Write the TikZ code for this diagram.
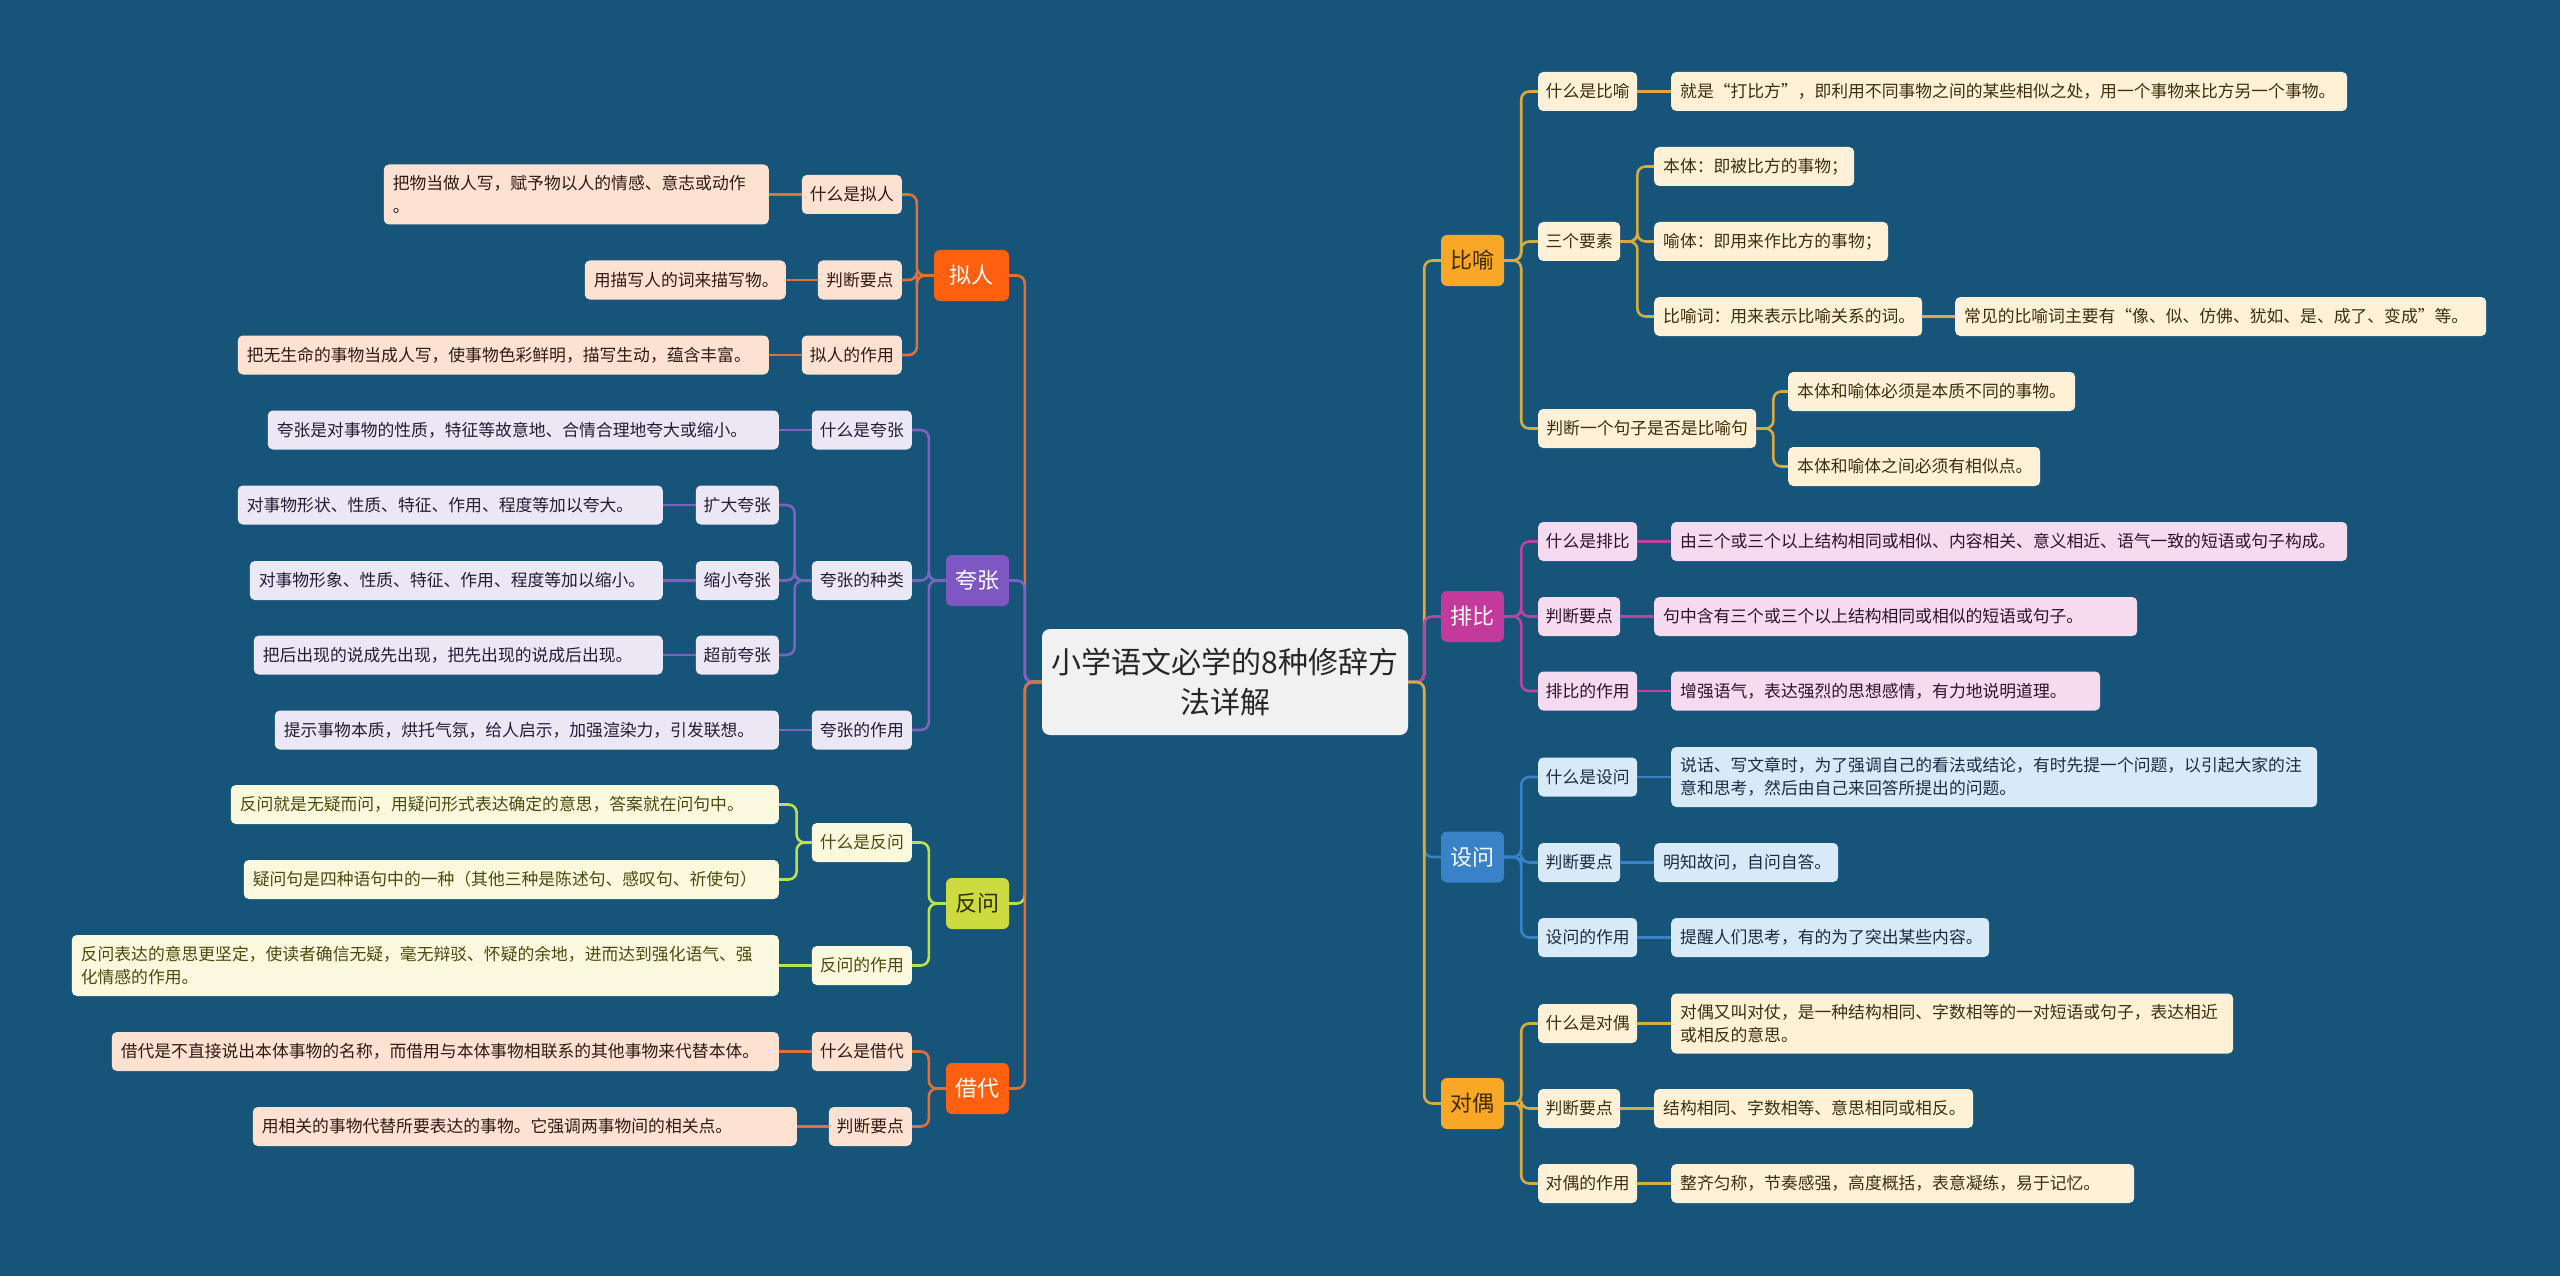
\documentclass[tikz,border=0pt]{standalone}
\usepackage{fontspec}
\setmainfont{Noto Sans CJK SC}
\definecolor{bg}{HTML}{17547A}
\definecolor{rootF}{HTML}{F1F1F1}
\definecolor{nrF}{HTML}{FF6010}
\definecolor{nrL}{HTML}{E0703A}
\definecolor{nrC}{HTML}{FDE2D2}
\definecolor{nrT}{HTML}{2E1A12}
\definecolor{kzF}{HTML}{7E57C2}
\definecolor{kzL}{HTML}{7E62C0}
\definecolor{kzC}{HTML}{ECE7F5}
\definecolor{kzT}{HTML}{221C36}
\definecolor{fwF}{HTML}{CDDB40}
\definecolor{fwT}{HTML}{2E2E10}
\definecolor{fwL}{HTML}{B9E150}
\definecolor{fwC}{HTML}{FAF9DD}
\definecolor{fwTT}{HTML}{4A4A10}
\definecolor{byF}{HTML}{F8A826}
\definecolor{byT}{HTML}{3E2A05}
\definecolor{byL}{HTML}{D9AA40}
\definecolor{byC}{HTML}{FEF1D8}
\definecolor{byTT}{HTML}{3E2E0C}
\definecolor{pbF}{HTML}{C43A9C}
\definecolor{pbL}{HTML}{B8459E}
\definecolor{pbC}{HTML}{F6DAEF}
\definecolor{pbT}{HTML}{30112C}
\definecolor{swF}{HTML}{3A82C8}
\definecolor{swL}{HTML}{3A82C8}
\definecolor{swC}{HTML}{D8E9F7}
\definecolor{swT}{HTML}{182C44}
\tikzset{
  rootbox/.style={fill=rootF, rounded corners=8pt, minimum width=366pt, minimum height=106pt,
    inner sep=0pt, align=center, text=black!85, font=\fontsize{30}{40}\selectfont},
  lone/.style={rounded corners=6pt, minimum height=51pt, inner sep=0pt, font=\fontsize{22}{26}\selectfont},
  ltwo/.style={rounded corners=5pt, minimum height=39pt, inner sep=0pt, font=\fontsize{16.8}{23}\selectfont},
  desc/.style={rounded corners=5pt, minimum height=39pt, inner xsep=9pt, inner ysep=0pt, align=left,
    font=\fontsize{16.8}{23}\selectfont},
  conn/.style={line width=2.6pt, rounded corners=8pt},
  cNR/.style={conn, draw=nrL},
  cKZ/.style={conn, draw=kzL},
  cFW/.style={conn, draw=fwL},
  cBY/.style={conn, draw=byL},
  cPB/.style={conn, draw=pbL},
  cSW/.style={conn, draw=swL},
  nrc/.style={fill=nrC, text=nrT},
  kzc/.style={fill=kzC, text=kzT},
  fwc/.style={fill=fwC, text=fwTT},
  byc/.style={fill=byC, text=byTT},
  pbc/.style={fill=pbC, text=pbT},
  swc/.style={fill=swC, text=swT},
}
\begin{document}
\begin{tikzpicture}[x=1pt,y=-1pt]
\fill[bg] (0,0) rectangle (2560,1276);
\useasboundingbox (0,0) rectangle (2560,1276);

% root
\node[rootbox] (R) at (1225,682) {小学语文必学的8种修辞方\\法详解};

% level one, left
\node[lone, fill=nrF, text=white, minimum width=75pt] (NR) at (971.5,275.5) {拟人};
\node[lone, fill=kzF, text=white, minimum width=63pt] (KZ) at (977.5,580.5) {夸张};
\node[lone, fill=fwF, text=fwT, minimum width=63pt] (FW) at (977.5,903.5) {反问};
\node[lone, fill=nrF, text=white, minimum width=63pt] (JD) at (977.5,1088.5) {借代};
% level one, right
\node[lone, fill=byF, text=byT, minimum width=63pt] (BY) at (1472.5,260.5) {比喻};
\node[lone, fill=pbF, text=white, minimum width=63pt] (PB) at (1472.5,616.5) {排比};
\node[lone, fill=swF, text=white, minimum width=63pt] (SW) at (1472.5,857) {设问};
\node[lone, fill=byF, text=byT, minimum width=63pt] (DO) at (1472.5,1103.5) {对偶};

% ---- 拟人
\node[ltwo, nrc, minimum width=100pt, anchor=east] (NR1) at (902,194.5) {什么是拟人};
\node[desc, nrc, text width=367pt, minimum height=60pt, anchor=east] (NR1a) at (769,194.5) {把物当做人写，赋予物以人的情感、意志或动作\\。};
\node[ltwo, nrc, minimum width=84pt, anchor=east] (NR2) at (902,280) {判断要点};
\node[desc, nrc, text width=183pt, anchor=east] (NR2a) at (786,280) {用描写人的词来描写物。};
\node[ltwo, nrc, minimum width=100pt, anchor=east] (NR3) at (902,355) {拟人的作用};
\node[desc, nrc, text width=513pt, anchor=east] (NR3a) at (769,355) {把无生命的事物当成人写，使事物色彩鲜明，描写生动，蕴含丰富。};

% ---- 夸张
\node[ltwo, kzc, minimum width=100pt, anchor=east] (KZ1) at (912,430) {什么是夸张};
\node[desc, kzc, text width=493pt, anchor=east] (KZ1a) at (779,430) {夸张是对事物的性质，特征等故意地、合情合理地夸大或缩小。};
\node[ltwo, kzc, minimum width=100pt, anchor=east] (KZ2) at (912,580.5) {夸张的种类};
\node[ltwo, kzc, minimum width=83pt, anchor=east] (KZ2a) at (779,505) {扩大夸张};
\node[desc, kzc, text width=407pt, anchor=east] (KZ2aa) at (663,505) {对事物形状、性质、特征、作用、程度等加以夸大。};
\node[ltwo, kzc, minimum width=83pt, anchor=east] (KZ2b) at (779,580.5) {缩小夸张};
\node[desc, kzc, text width=395pt, anchor=east] (KZ2ba) at (663,580.5) {对事物形象、性质、特征、作用、程度等加以缩小。};
\node[ltwo, kzc, minimum width=83pt, anchor=east] (KZ2c) at (779,655) {超前夸张};
\node[desc, kzc, text width=391pt, anchor=east] (KZ2ca) at (663,655) {把后出现的说成先出现，把先出现的说成后出现。};
\node[ltwo, kzc, minimum width=100pt, anchor=east] (KZ3) at (912,730) {夸张的作用};
\node[desc, kzc, text width=486pt, anchor=east] (KZ3a) at (779,730) {提示事物本质，烘托气氛，给人启示，加强渲染力，引发联想。};

% ---- 反问
\node[ltwo, fwc, minimum width=100pt, anchor=east] (FW1) at (912,842.5) {什么是反问};
\node[desc, fwc, text width=530pt, anchor=east] (FW1a) at (779,804.5) {反问就是无疑而问，用疑问形式表达确定的意思，答案就在问句中。};
\node[desc, fwc, text width=517pt, anchor=east] (FW1b) at (779,879.5) {疑问句是四种语句中的一种（其他三种是陈述句、感叹句、祈使句）};
\node[ltwo, fwc, minimum width=100pt, anchor=east] (FW2) at (912,965.5) {反问的作用};
\node[desc, fwc, text width=689pt, minimum height=61pt, anchor=east] (FW2a) at (779,965.5) {反问表达的意思更坚定，使读者确信无疑，毫无辩驳、怀疑的余地，进而达到强化语气、强\\化情感的作用。};

% ---- 借代
\node[ltwo, nrc, minimum width=100pt, anchor=east] (JD1) at (912,1051.5) {什么是借代};
\node[desc, nrc, text width=649pt, anchor=east] (JD1a) at (779,1051.5) {借代是不直接说出本体事物的名称，而借用与本体事物相联系的其他事物来代替本体。};
\node[ltwo, nrc, minimum width=83pt, anchor=east] (JD2) at (912,1126.5) {判断要点};
\node[desc, nrc, text width=526pt, anchor=east] (JD2a) at (797,1126.5) {用相关的事物代替所要表达的事物。它强调两事物间的相关点。};

% ---- 比喻
\node[ltwo, byc, minimum width=99pt, anchor=west] (BY1) at (1538,91.5) {什么是比喻};
\node[desc, byc, text width=658pt, anchor=west] (BY1a) at (1671,91.5) {就是“打比方”，即利用不同事物之间的某些相似之处，用一个事物来比方另一个事物。};
\node[ltwo, byc, minimum width=82pt, anchor=west] (BY2) at (1538,241.5) {三个要素};
\node[desc, byc, text width=182pt, anchor=west] (BY2a) at (1654,166.5) {本体：即被比方的事物；};
\node[desc, byc, text width=216pt, anchor=west] (BY2b) at (1654,241.5) {喻体：即用来作比方的事物；};
\node[desc, byc, text width=250pt, anchor=west] (BY2c) at (1654,316.5) {比喻词：用来表示比喻关系的词。};
\node[desc, byc, text width=513pt, anchor=west] (BY2ca) at (1955,316.5) {常见的比喻词主要有“像、似、仿佛、犹如、是、成了、变成”等。};
\node[ltwo, byc, minimum width=218pt, anchor=west] (BY3) at (1538,428.5) {判断一个句子是否是比喻句};
\node[desc, byc, text width=269pt, anchor=west] (BY3a) at (1788,391.5) {本体和喻体必须是本质不同的事物。};
\node[desc, byc, text width=234pt, anchor=west] (BY3b) at (1788,466.5) {本体和喻体之间必须有相似点。};

% ---- 排比
\node[ltwo, pbc, minimum width=99pt, anchor=west] (PB1) at (1538,541.5) {什么是排比};
\node[desc, pbc, text width=658pt, anchor=west] (PB1a) at (1671,541.5) {由三个或三个以上结构相同或相似、内容相关、意义相近、语气一致的短语或句子构成。};
\node[ltwo, pbc, minimum width=82pt, anchor=west] (PB2) at (1538,616.5) {判断要点};
\node[desc, pbc, text width=465pt, anchor=west] (PB2a) at (1654,616.5) {句中含有三个或三个以上结构相同或相似的短语或句子。};
\node[ltwo, pbc, minimum width=99pt, anchor=west] (PB3) at (1538,691) {排比的作用};
\node[desc, pbc, text width=411pt, anchor=west] (PB3a) at (1671,691) {增强语气，表达强烈的思想感情，有力地说明道理。};

% ---- 设问
\node[ltwo, swc, minimum width=99pt, anchor=west] (SW1) at (1538,777) {什么是设问};
\node[desc, swc, text width=628pt, minimum height=60pt, anchor=west] (SW1a) at (1671,777) {说话、写文章时，为了强调自己的看法或结论，有时先提一个问题，以引起大家的注\\意和思考，然后由自己来回答所提出的问题。};
\node[ltwo, swc, minimum width=82pt, anchor=west] (SW2) at (1538,862.5) {判断要点};
\node[desc, swc, text width=166pt, anchor=west] (SW2a) at (1654,862.5) {明知故问，自问自答。};
\node[ltwo, swc, minimum width=99pt, anchor=west] (SW3) at (1538,937.5) {设问的作用};
\node[desc, swc, text width=300pt, anchor=west] (SW3a) at (1671,937.5) {提醒人们思考，有的为了突出某些内容。};

% ---- 对偶
\node[ltwo, byc, minimum width=99pt, anchor=west] (DO1) at (1538,1023.5) {什么是对偶};
\node[desc, byc, text width=544pt, minimum height=60pt, anchor=west] (DO1a) at (1671,1023.5) {对偶又叫对仗，是一种结构相同、字数相等的一对短语或句子，表达相近\\或相反的意思。};
\node[ltwo, byc, minimum width=82pt, anchor=west] (DO2) at (1538,1108.5) {判断要点};
\node[desc, byc, text width=301pt, anchor=west] (DO2a) at (1654,1108.5) {结构相同、字数相等、意思相同或相反。};
\node[ltwo, byc, minimum width=99pt, anchor=west] (DO3) at (1538,1183.5) {对偶的作用};
\node[desc, byc, text width=445pt, anchor=west] (DO3a) at (1671,1183.5) {整齐匀称，节奏感强，高度概括，表意凝练，易于记忆。};

% ================= connectors
% root to level one
\draw[cNR] (R.west) -- ++(-17,0) |- (NR.east);
\draw[cKZ] (R.west) -- ++(-17,0) |- (KZ.east);
\draw[cFW] (R.west) -- ++(-17,0) |- (FW.east);
\draw[cNR] (R.west) -- ++(-17,0) |- (JD.east);
\draw[cBY] (R.east) -- ++(16,0) |- (BY.west);
\draw[cPB] (R.east) -- ++(16,0) |- (PB.west);
\draw[cSW] (R.east) -- ++(16,0) |- (SW.west);
\draw[cBY] (R.east) -- ++(16,0) |- (DO.west);

% 拟人
\foreach \c in {NR1,NR2,NR3} \draw[cNR] (NR.west) -- ++(-17,0) |- (\c.east);
\draw[cNR] (NR1.west) -- (NR1a.east);
\draw[cNR] (NR2.west) -- (NR2a.east);
\draw[cNR] (NR3.west) -- (NR3a.east);

% 夸张
\foreach \c in {KZ1,KZ2,KZ3} \draw[cKZ] (KZ.west) -- ++(-17,0) |- (\c.east);
\draw[cKZ] (KZ1.west) -- (KZ1a.east);
\foreach \c in {KZ2a,KZ2b,KZ2c} \draw[cKZ] (KZ2.west) -- ++(-17,0) |- (\c.east);
\draw[cKZ] (KZ2a.west) -- (KZ2aa.east);
\draw[cKZ] (KZ2b.west) -- (KZ2ba.east);
\draw[cKZ] (KZ2c.west) -- (KZ2ca.east);
\draw[cKZ] (KZ3.west) -- (KZ3a.east);

% 反问
\foreach \c in {FW1,FW2} \draw[cFW] (FW.west) -- ++(-17,0) |- (\c.east);
\foreach \c in {FW1a,FW1b} \draw[cFW] (FW1.west) -- ++(-15,0) |- (\c.east);
\draw[cFW] (FW2.west) -- (FW2a.east);

% 借代
\foreach \c in {JD1,JD2} \draw[cNR] (JD.west) -- ++(-17,0) |- (\c.east);
\draw[cNR] (JD1.west) -- (JD1a.east);
\draw[cNR] (JD2.west) -- (JD2a.east);

% 比喻
\foreach \c in {BY1,BY2,BY3} \draw[cBY] (BY.east) -- ++(17,0) |- (\c.west);
\draw[cBY] (BY1.east) -- (BY1a.west);
\foreach \c in {BY2a,BY2b,BY2c} \draw[cBY] (BY2.east) -- ++(17,0) |- (\c.west);
\draw[cBY] (BY2c.east) -- (BY2ca.west);
\foreach \c in {BY3a,BY3b} \draw[cBY] (BY3.east) -- ++(17,0) |- (\c.west);

% 排比
\foreach \c in {PB1,PB2,PB3} \draw[cPB] (PB.east) -- ++(17,0) |- (\c.west);
\draw[cPB] (PB1.east) -- (PB1a.west);
\draw[cPB] (PB2.east) -- (PB2a.west);
\draw[cPB] (PB3.east) -- (PB3a.west);

% 设问
\foreach \c in {SW1,SW2,SW3} \draw[cSW] (SW.east) -- ++(17,0) |- (\c.west);
\draw[cSW] (SW1.east) -- (SW1a.west);
\draw[cSW] (SW2.east) -- (SW2a.west);
\draw[cSW] (SW3.east) -- (SW3a.west);

% 对偶
\foreach \c in {DO1,DO2,DO3} \draw[cBY] (DO.east) -- ++(17,0) |- (\c.west);
\draw[cBY] (DO1.east) -- (DO1a.west);
\draw[cBY] (DO2.east) -- (DO2a.west);
\draw[cBY] (DO3.east) -- (DO3a.west);
\end{tikzpicture}
\end{document}
